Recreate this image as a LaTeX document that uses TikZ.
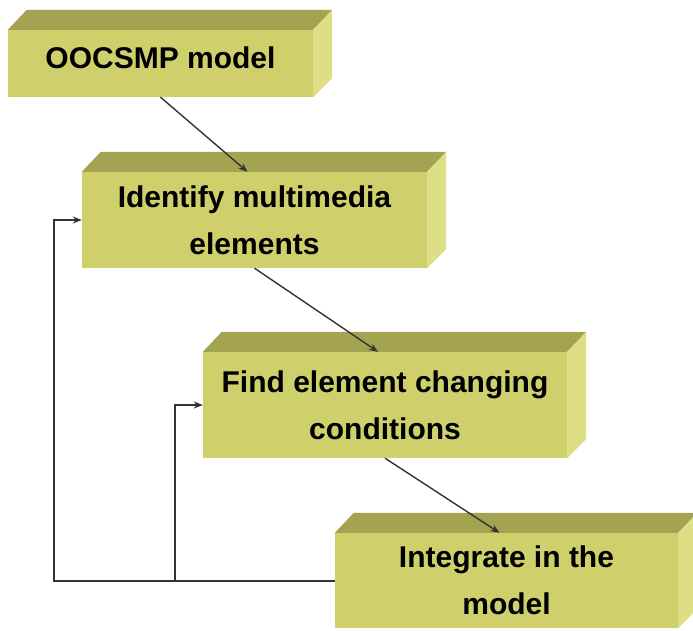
\documentclass[tikz,border=0pt]{standalone}
\usepackage{fontspec}
\setmainfont{Liberation Sans}
\usepackage{xcolor}
\definecolor{boxfront}{HTML}{CFCF6B}
\definecolor{boxtop}{HTML}{A3A352}
\definecolor{boxside}{HTML}{DEDE86}
\definecolor{linegray}{HTML}{333333}
\usetikzlibrary{arrows.meta,positioning}

% top and side faces of an extruded box
\newcommand{\extrude}[1]{%
  \fill[boxtop] (#1.north west) -- ++(19pt,20pt) -- ([shift={(19pt,20pt)}]#1.north east) -- (#1.north east) -- cycle;
  \fill[boxside] (#1.north east) -- ++(19pt,20pt) -- ([shift={(19pt,19pt)}]#1.south east) -- (#1.south east) -- cycle;
}

\begin{document}
\begin{tikzpicture}[
        x=1pt, y=-1pt,
        stepbox/.style={rectangle, fill=boxfront, inner sep=0pt, align=center,
            font=\fontsize{30}{47}\selectfont\bfseries},
        arrow/.style={-{Stealth[length=9pt,width=7pt]}, line width=1.4pt, draw=linegray},
        feedback/.style={-{Stealth[length=9pt,width=7pt]}, line width=2pt, draw=linegray}
    ]
        \useasboundingbox (0,0) rectangle (693,631);

        \node[stepbox, minimum width=305pt, minimum height=67pt, text depth=12pt] (model) at (160.5,63.5) {OOCSMP model};
        \node[stepbox, minimum width=345pt, minimum height=96pt] (identify) at (254.5,220) {Identify multimedia\\elements};
        \node[stepbox, minimum width=364pt, minimum height=106pt] (find) at (385,405) {Find element changing\\conditions};
        \node[stepbox, minimum width=343pt, minimum height=95pt] (integrate) at (506.5,580.5) {Integrate in the\\model};

        \extrude{model}
        \extrude{identify}
        \extrude{find}
        \extrude{integrate}

        \draw[arrow] (model.south) -- ([xshift=-7pt]identify.north);
        \draw[arrow] (identify.south) -- ([xshift=-7pt]find.north);
        \draw[arrow] (find.south) -- ([xshift=-7pt]integrate.north);

        % loops back from the last step
        \draw[feedback] (integrate.west) -| ([xshift=-28pt]find.west) -- (find.west);
        \draw[feedback] ([xshift=-28pt]find.west |- integrate.west) -| ([xshift=-28pt]identify.west) -- (identify.west);
    \end{tikzpicture}
\end{document}
